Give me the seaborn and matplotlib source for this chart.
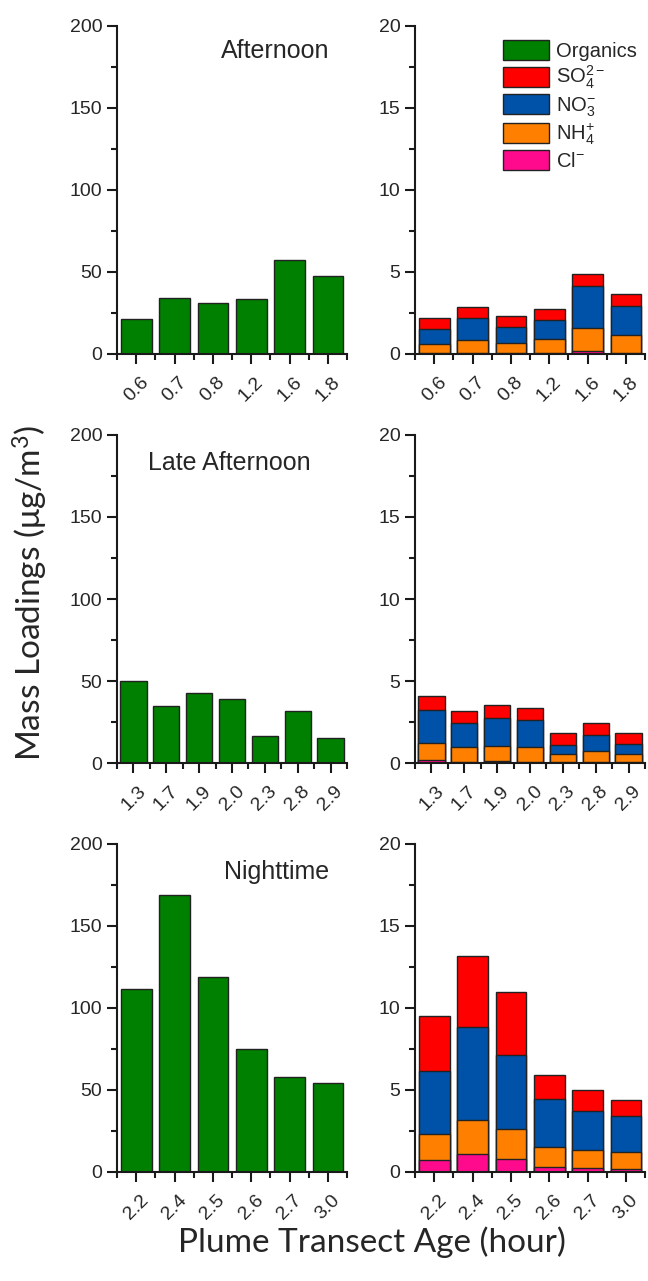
import numpy as np
import pandas as pd
import matplotlib
matplotlib.use("Agg")
import matplotlib.pyplot as plt
from matplotlib.patches import Patch
from matplotlib.ticker import MultipleLocator, FixedLocator
import seaborn as sns

# plume transect ages (hour)
ages_aft = ["0.6", "0.7", "0.8", "1.2", "1.6", "1.8"]
ages_late = ["1.3", "1.7", "1.9", "2.0", "2.3", "2.8", "2.9"]
ages_night = ["2.2", "2.4", "2.5", "2.6", "2.7", "3.0"]

# organics (ug/m3)
org_aft = [21.3, 34.0, 31.0, 33.3, 57.3, 47.7]
org_late = [49.8, 34.7, 42.4, 39.0, 16.5, 31.6, 15.3]
org_night = [111.8, 169.2, 118.9, 74.7, 58.0, 54.4]

# inorganics (ug/m3)
cl_aft = [0.05, 0.05, 0.05, 0.05, 0.20, 0.08]
nh4_aft = [0.58, 0.78, 0.64, 0.84, 1.39, 1.10]
no3_aft = [0.89, 1.37, 0.93, 1.18, 2.53, 1.72]
so4_aft = [0.65, 0.67, 0.72, 0.66, 0.76, 0.76]

cl_late = [0.16, 0.05, 0.10, 0.06, 0.04, 0.05, 0.04]
nh4_late = [1.04, 0.93, 0.94, 0.92, 0.53, 0.70, 0.49]
no3_late = [2.02, 1.43, 1.72, 1.63, 0.55, 0.98, 0.63]
so4_late = [0.86, 0.75, 0.75, 0.76, 0.68, 0.72, 0.68]

cl_night = [0.73, 1.07, 0.77, 0.33, 0.27, 0.16]
nh4_night = [1.56, 2.10, 1.87, 1.21, 1.05, 1.08]
no3_night = [3.86, 5.68, 4.48, 2.94, 2.43, 2.19]
so4_night = [3.36, 4.34, 3.88, 1.44, 1.26, 0.97]

GREEN = "#008000"
RED = "#ff0000"
BLUE = "#0052a8"
ORANGE = "#ff8000"
PINK = "#ff0a8c"
EDGE = "#222222"

sns.set_style("ticks")
plt.rcParams["font.family"] = ["Liberation Sans", "DejaVu Sans"]
plt.rcParams["mathtext.default"] = "regular"

fig = plt.figure(figsize=(6.48, 12.81), dpi=100)

W, H = 648.0, 1281.0
col_left = [117, 415]
row_bottom = [354, 763, 1172]
ax_w, ax_h = 230, 328


def make_ax(r, c):
    return fig.add_axes([col_left[c] / W, (H - row_bottom[r]) / H, ax_w / W, ax_h / H])


def style(ax, n, ymax, major):
    ax.set_ylim(0, ymax)
    ax.set_xlim(-0.5, n - 0.5)
    ax.yaxis.set_major_locator(MultipleLocator(major))
    ax.yaxis.set_minor_locator(MultipleLocator(major / 2))
    ax.xaxis.set_minor_locator(FixedLocator(np.arange(-0.5, n, 1)))
    for s in ["top", "right"]:
        ax.spines[s].set_visible(False)
    for s in ["left", "bottom"]:
        ax.spines[s].set_linewidth(1.5)
        ax.spines[s].set_color("#1a1a1a")
    ax.tick_params(which="major", length=7, width=1.5, labelsize=14, color="#1a1a1a")
    ax.tick_params(which="minor", length=4, width=1.5, color="#1a1a1a")
    ax.tick_params(axis="x", which="major", pad=7)
    plt.setp(ax.get_xticklabels(), rotation=45)
    ax.set_xlabel("")
    ax.set_ylabel("")


def organics(ax, ages, org):
    sns.barplot(x=ages, y=org, order=ages, color=GREEN, saturation=1, width=0.8,
                edgecolor=EDGE, linewidth=1, errorbar=None, ax=ax)
    style(ax, len(ages), 200, 50)


def inorganics(ax, ages, cl, nh4, no3, so4):
    df = pd.DataFrame({"age": ages, "Cl": cl, "NH4": nh4, "NO3": no3, "SO4": so4})
    df["c_cl"] = df["Cl"]
    df["c_nh4"] = df["c_cl"] + df["NH4"]
    df["c_no3"] = df["c_nh4"] + df["NO3"]
    df["c_so4"] = df["c_no3"] + df["SO4"]
    for col, color in [("c_so4", RED), ("c_no3", BLUE), ("c_nh4", ORANGE), ("c_cl", PINK)]:
        sns.barplot(data=df, x="age", y=col, order=ages, color=color, saturation=1,
                    width=0.8, edgecolor=EDGE, linewidth=1, errorbar=None, ax=ax)
    style(ax, len(ages), 20, 5)


panels = [
    (ages_aft, org_aft, cl_aft, nh4_aft, no3_aft, so4_aft, "Afternoon", 0.69, 0.925),
    (ages_late, org_late, cl_late, nh4_late, no3_late, so4_late, "Late Afternoon", 0.49, 0.915),
    (ages_night, org_night, cl_night, nh4_night, no3_night, so4_night, "Nighttime", 0.695, 0.915),
]

for r, (ages, org, cl, nh4, no3, so4, title, tx, ty) in enumerate(panels):
    axl = make_ax(r, 0)
    organics(axl, ages, org)
    axl.text(tx, ty, title, transform=axl.transAxes, ha="center", va="center", fontsize=18)
    axr = make_ax(r, 1)
    inorganics(axr, ages, cl, nh4, no3, so4)
    if r == 0:
        handles = [Patch(facecolor=c, edgecolor=EDGE, linewidth=1) for c in [GREEN, RED, BLUE, ORANGE, PINK]]
        labels = ["Organics", "SO$_4^{2-}$", "NO$_3^{-}$", "NH$_4^{+}$", "Cl$^{-}$"]
        axr.legend(handles, labels, loc="upper left", bbox_to_anchor=(0.32, 1.0),
                   frameon=False, fontsize=14.5, handlelength=2.3, handleheight=1.15,
                   labelspacing=0.15, handletextpad=0.35, borderaxespad=0.3)

fig.text(30 / W, 1 - 593 / H, "Mass Loadings (μg/m$^3$)", rotation=90, ha="center", va="center",
         fontsize=24, family="Lato")
fig.text(372 / W, 1 - 1242 / H, "Plume Transect Age (hour)", ha="center", va="center",
         fontsize=24, family="Lato")

fig.savefig("out.png", dpi=100)
